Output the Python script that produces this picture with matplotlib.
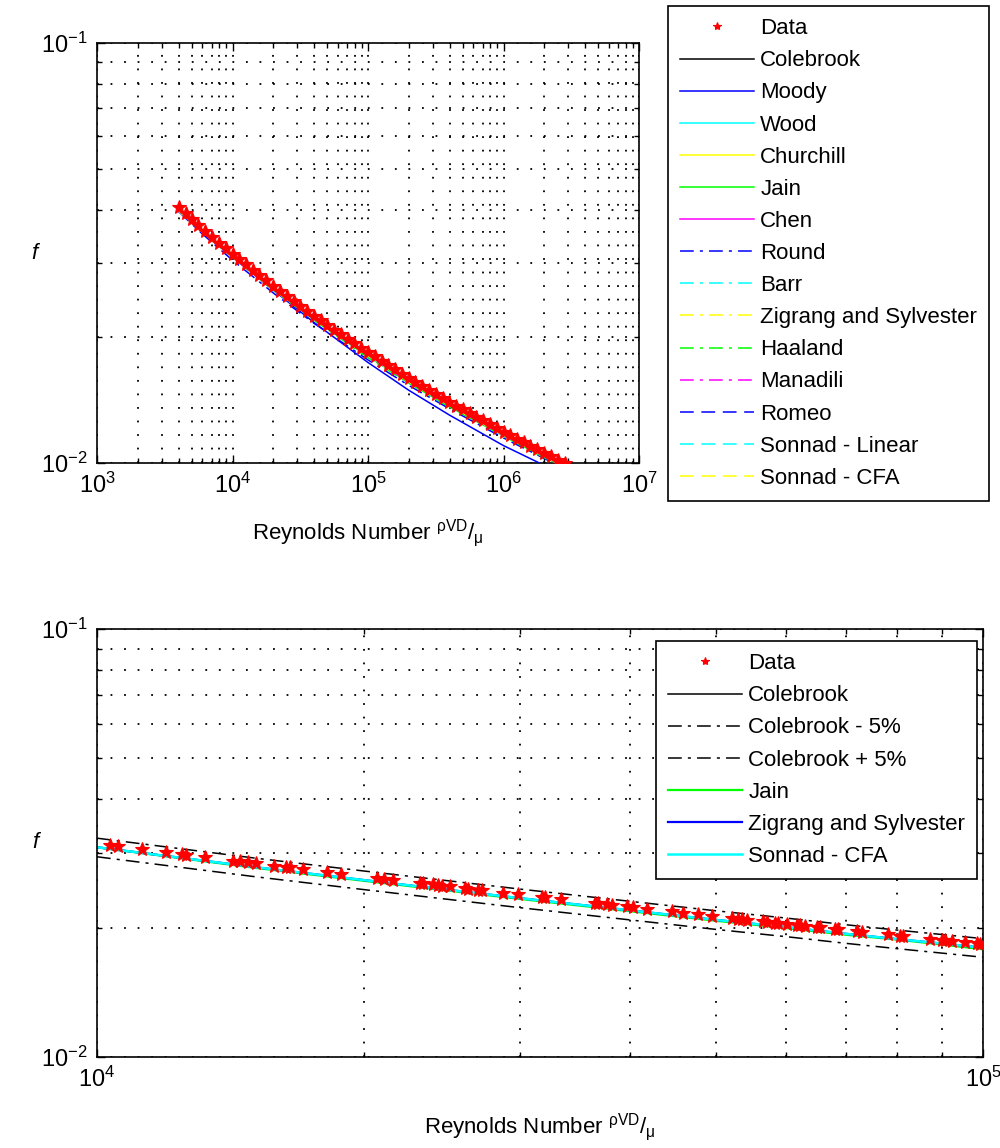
import numpy as np
import matplotlib
matplotlib.use("Agg")
import matplotlib.pyplot as plt
from matplotlib.ticker import LogLocator, NullFormatter, FuncFormatter
import math

plt.rcParams['font.family'] = ['Liberation Sans', 'DejaVu Sans']
plt.rcParams['mathtext.fontset'] = 'custom'
plt.rcParams['mathtext.rm'] = 'Liberation Sans'
plt.rcParams['mathtext.it'] = 'Liberation Sans:italic'
plt.rcParams['mathtext.default'] = 'regular'

# ---------------- data: top panel ----------------
top_data_re = [4000, 4500, 5000, 5600, 6300, 7100, 8000, 9000, 10000, 11200, 12600, 14100,
               15800, 17800, 20000, 22400, 25100, 28200, 31600, 35500, 39800, 44700, 50100,
               56200, 63100, 70800, 79400, 89100, 100000, 112000, 126000, 141000, 158000,
               178000, 200000, 224000, 251000, 282000, 316000, 355000, 398000, 447000,
               501000, 562000, 631000, 708000, 794000, 891000, 1000000, 1120000, 1260000,
               1410000, 1580000, 1780000, 2000000, 2240000, 2510000, 2820000]
top_data_f = [0.04072, 0.03935, 0.03816, 0.03694, 0.03573, 0.03459, 0.03349, 0.03244, 0.03152,
              0.03062, 0.02972, 0.02887, 0.02804, 0.02721, 0.02641, 0.02570, 0.02501, 0.02432,
              0.02367, 0.02305, 0.02244, 0.02188, 0.02131, 0.02078, 0.02028, 0.01978, 0.01929,
              0.01882, 0.01836, 0.01794, 0.01750, 0.01710, 0.01670, 0.01630, 0.01591, 0.01558,
              0.01524, 0.01492, 0.01460, 0.01429, 0.01398, 0.01370, 0.01343, 0.01315, 0.01289,
              0.01263, 0.01237, 0.01212, 0.01188, 0.01166, 0.01143, 0.01122, 0.01100, 0.01079,
              0.01057, 0.01038, 0.01019, 0.01000]

top_re = [4000, 6000, 10000, 20000, 40000, 100000, 200000, 400000, 1000000, 2000000, 3000000]
colebrook_top = [0.0399, 0.0355, 0.0309, 0.0259, 0.0220, 0.0180, 0.0156, 0.0137, 0.01165, 0.01037, 0.0097]
moody_top = [0.0402, 0.0358, 0.0310, 0.0258, 0.0216, 0.01735, 0.0149, 0.0130, 0.0110, 0.00987, 0.00931]
wood_top = [0.001, 0.001, 0.001, 0.001, 0.001, 0.001, 0.001, 0.001, 0.001, 0.001, 0.001]
churchill_top = [0.0400, 0.0356, 0.0310, 0.0260, 0.0221, 0.0181, 0.0157, 0.0138, 0.0117, 0.0104, 0.0098]
jain_top = [0.0398, 0.0354, 0.0309, 0.0259, 0.0219, 0.01795, 0.0155, 0.0136, 0.0116, 0.0103, 0.0097]
chen_top = [0.0399, 0.0355, 0.0309, 0.0259, 0.0220, 0.0180, 0.0156, 0.0137, 0.01165, 0.01037, 0.0097]
round_top = [0.0397, 0.0351, 0.0304, 0.0254, 0.0215, 0.0176, 0.0153, 0.01346, 0.01147, 0.01025, 0.00962]
barr_top = [0.0399, 0.0355, 0.0309, 0.0259, 0.0220, 0.0180, 0.0156, 0.0137, 0.01165, 0.01037, 0.0097]
zigrang_top = [0.0399, 0.0355, 0.0309, 0.0259, 0.0220, 0.0180, 0.0156, 0.0137, 0.01165, 0.01037, 0.0097]
haaland_top = [0.0404, 0.0356, 0.0309, 0.0258, 0.0219, 0.0178, 0.0155, 0.0136, 0.0116, 0.0103, 0.0097]
manadili_top = [0.0399, 0.0355, 0.0309, 0.0259, 0.0220, 0.0180, 0.0156, 0.0137, 0.01165, 0.01037, 0.0097]
romeo_top = [0.0399, 0.0355, 0.0309, 0.0259, 0.0220, 0.0180, 0.0156, 0.0137, 0.01165, 0.01037, 0.0097]
sonnad_lin_top = [0.0399, 0.0355, 0.0309, 0.0259, 0.0220, 0.0180, 0.0156, 0.0137, 0.01165, 0.01037, 0.0097]
sonnad_cfa_top = [0.0399, 0.0355, 0.0309, 0.0259, 0.0220, 0.0180, 0.0156, 0.0137, 0.01165, 0.01037, 0.0097]

top_labels = ['Colebrook', 'Moody', 'Wood', 'Churchill', 'Jain', 'Chen', 'Round', 'Barr',
              'Zigrang and Sylvester', 'Haaland', 'Manadili', 'Romeo', 'Sonnad - Linear', 'Sonnad - CFA']

# ---------------- data: bottom panel ----------------
bot_data_re = [10340, 10560, 11240, 11970, 12470, 12600, 13240, 14240, 14500, 14800, 15110,
               15840, 16340, 16510, 17080, 18180, 18850, 20700, 21080, 21580, 23150, 23330,
               23940, 24260, 24520, 25030, 26020, 26230, 26920, 27200, 28720, 29870, 31790,
               32030, 33400, 36480, 36770, 37640, 38130, 39650, 40270, 41760, 44570, 45860,
               47690, 49450, 52090, 52910, 53460, 54160, 56460, 57040, 58240, 58690, 60090,
               61670, 62150, 62960, 64950, 65460, 68080, 68610, 72070, 73010, 78130, 80600,
               81240, 87130, 89890, 90590, 92260, 95440, 98450, 99220]
bot_data_f = [0.03124, 0.03107, 0.03057, 0.03008, 0.02977, 0.02968, 0.02931, 0.02877, 0.02864,
              0.02849, 0.02834, 0.02801, 0.02779, 0.02772, 0.02748, 0.02706, 0.02682, 0.02621,
              0.02609, 0.02594, 0.02550, 0.02545, 0.02530, 0.02521, 0.02515, 0.02503, 0.02479,
              0.02475, 0.02460, 0.02453, 0.02422, 0.02400, 0.02365, 0.02360, 0.02338, 0.02290,
              0.02286, 0.02274, 0.02267, 0.02247, 0.02239, 0.02220, 0.02188, 0.02174, 0.02155,
              0.02137, 0.02112, 0.02105, 0.02100, 0.02094, 0.02075, 0.02071, 0.02061, 0.02057,
              0.02047, 0.02035, 0.02032, 0.02026, 0.02012, 0.02009, 0.01992, 0.01989, 0.01967,
              0.01962, 0.01934, 0.01921, 0.01918, 0.01890, 0.01877, 0.01874, 0.01868, 0.01854,
              0.01842, 0.01839]

bot_re = [10000, 15000, 20000, 30000, 40000, 50000, 60000, 70000, 80000, 90000, 100000]
colebrook_bot = [0.0309, 0.0278, 0.0259, 0.0235, 0.0220, 0.0209, 0.0201, 0.0194, 0.01885, 0.0184, 0.0180]
colebrook_m5 = [0.02936, 0.02641, 0.02461, 0.02233, 0.0209, 0.01986, 0.0191, 0.01843, 0.01791, 0.01748, 0.0171]
colebrook_p5 = [0.03245, 0.02919, 0.0272, 0.02468, 0.0231, 0.02195, 0.02111, 0.02037, 0.01979, 0.01932, 0.0189]
jain_bot = [0.0309, 0.0277, 0.0258, 0.0234, 0.0219, 0.0208, 0.0200, 0.0193, 0.0188, 0.0183, 0.01785]
zigrang_bot = [0.0309, 0.0278, 0.0259, 0.0235, 0.0220, 0.0209, 0.0201, 0.0194, 0.01885, 0.0184, 0.0180]
sonnad_cfa_bot = [0.0309, 0.0278, 0.0259, 0.0235, 0.0220, 0.0209, 0.0201, 0.0194, 0.01885, 0.0184, 0.0180]

FS = 16
TFS = 17
DOT = (0, (1, 6.5))
DASHDOT = (0, (9, 4, 2, 4))
DASHED = (0, (9, 5))

fig = plt.figure(figsize=(10, 11.48), dpi=100)
ax1 = fig.add_axes([0.097, 0.5967, 0.542, 0.3658])
ax2 = fig.add_axes([0.097, 0.0793, 0.886, 0.3728])


def pow_fmt(v, pos):
    e = int(round(math.log10(v)))
    return r'$10^{%d}$' % e


def style_axes(ax, xlim, ylim, ylab_x):
    ax.set_xscale('log')
    ax.set_yscale('log')
    ax.set_xlim(*xlim)
    ax.set_ylim(*ylim)
    ax.xaxis.set_major_locator(LogLocator(base=10, numticks=20))
    ax.xaxis.set_minor_locator(LogLocator(base=10, subs=np.arange(2, 10), numticks=20))
    ax.yaxis.set_major_locator(LogLocator(base=10, numticks=20))
    ax.yaxis.set_minor_locator(LogLocator(base=10, subs=np.arange(2, 10), numticks=20))
    ax.xaxis.set_minor_formatter(NullFormatter())
    ax.yaxis.set_minor_formatter(NullFormatter())
    ax.xaxis.set_major_formatter(FuncFormatter(pow_fmt))
    ax.yaxis.set_major_formatter(FuncFormatter(pow_fmt))
    ax.grid(True, which='both', color='black', linestyle=DOT, linewidth=1.3)
    ax.tick_params(which='both', direction='in', top=True, right=True, labelsize=TFS,
                   width=1.0, color='black')
    ax.tick_params(which='major', length=6, pad=7)
    ax.tick_params(which='minor', length=3.5)
    for s in ax.spines.values():
        s.set_linewidth(1.2)
    ax.set_axisbelow(True)
    ax.set_xlabel(r'Reynolds Number $^{\rho VD}/_{\mu}$', fontsize=FS, labelpad=14)
    ax.set_ylabel('f', fontsize=FS, style='italic', rotation=0, va='center', ha='center')
    ax.yaxis.set_label_coords(ylab_x, 0.5)


# ----- top -----
style_axes(ax1, (1e3, 1e7), (1e-2, 1e-1), -0.115)
h_data1, = ax1.plot(top_data_re, top_data_f, linestyle='none', marker='*', color='red',
                    markersize=10, markeredgewidth=0.8, zorder=5, label='Data')
top_series = [colebrook_top, moody_top, wood_top, churchill_top, jain_top, chen_top, round_top,
              barr_top, zigrang_top, haaland_top, manadili_top, romeo_top, sonnad_lin_top,
              sonnad_cfa_top]
top_colors = ['black', 'blue', 'cyan', 'yellow', 'lime', 'magenta', 'blue', 'cyan', 'yellow',
              'lime', 'magenta', 'blue', 'cyan', 'yellow']
top_styles = ['-'] * 6 + [DASHDOT] * 5 + [DASHED] * 3
handles1 = [h_data1]
for vals, c, ls, lab in zip(top_series, top_colors, top_styles, top_labels):
    h, = ax1.plot(top_re, vals, color=c, linestyle=ls, linewidth=1.1, label=lab, zorder=3)
    handles1.append(h)

leg_kw = dict(fontsize=FS, frameon=True, fancybox=False, edgecolor='black', framealpha=1,
              handlelength=3.3, handletextpad=0.3, labelspacing=0.5, borderpad=0.55,
              borderaxespad=0, markerscale=0.6)
leg1 = fig.legend(handles=handles1, loc='upper left', bbox_to_anchor=(0.668, 1 - 6 / 1148),
                  bbox_transform=fig.transFigure, **leg_kw)
leg1.get_frame().set_linewidth(1.2)

# ----- bottom -----
style_axes(ax2, (1e4, 1e5), (1e-2, 1e-1), -0.07)
h_data2, = ax2.plot(bot_data_re, bot_data_f, linestyle='none', marker='*', color='red',
                    markersize=10, markeredgewidth=0.8, zorder=5, label='Data')
h_c, = ax2.plot(bot_re, colebrook_bot, color='black', linewidth=1.1, label='Colebrook')
h_m, = ax2.plot(bot_re, colebrook_m5, color='black', linestyle=DASHDOT, linewidth=1.1,
                label='Colebrook - 5%')
h_p, = ax2.plot(bot_re, colebrook_p5, color='black', linestyle=DASHDOT, linewidth=1.1,
                label='Colebrook + 5%')
h_j, = ax2.plot(bot_re, jain_bot, color='lime', linewidth=1.6, label='Jain')
h_z, = ax2.plot(bot_re, zigrang_bot, color='blue', linewidth=1.6, label='Zigrang and Sylvester')
h_s, = ax2.plot(bot_re, sonnad_cfa_bot, color='cyan', linewidth=1.8, label='Sonnad - CFA')

leg2 = ax2.legend(handles=[h_data2, h_c, h_m, h_p, h_j, h_z, h_s], loc='upper left',
                  bbox_to_anchor=(656 / 1000, 1 - 641 / 1148), bbox_transform=fig.transFigure,
                  **leg_kw)
leg2.get_frame().set_linewidth(1.2)

fig.savefig('out.png', dpi=100)
